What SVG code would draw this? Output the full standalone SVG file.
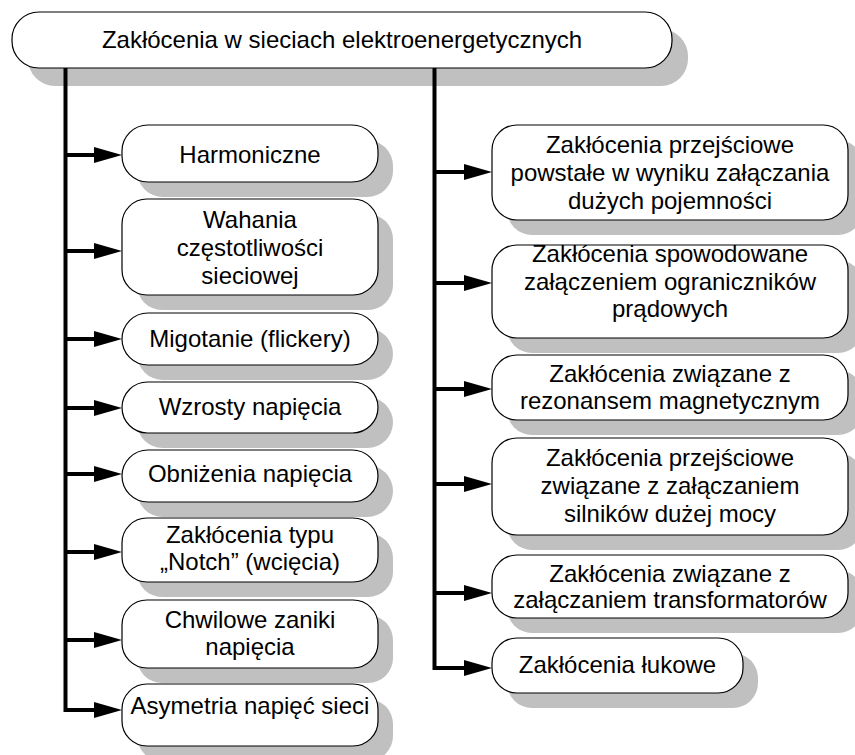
<svg xmlns="http://www.w3.org/2000/svg" width="855" height="755" viewBox="0 0 855 755">
  <style>
    .shadow { fill: #c0c0c0; stroke: none; }
    .box { fill: #ffffff; stroke: #000000; stroke-width: 1.2; }
    .label { font-family: "Liberation Sans", Arial, sans-serif; font-size: 24px; fill: #000000; text-anchor: middle; }
    .wire { fill: none; stroke: #000000; stroke-width: 4; stroke-linejoin: miter; }
  </style>
  <defs>
    <marker id="arrow" markerUnits="userSpaceOnUse" markerWidth="30" markerHeight="18" refX="6" refY="8" orient="auto" overflow="visible">
      <path d="M0,0 L28,8 L0,16 Z" fill="#000000"/>
    </marker>
  </defs>
  <rect width="855" height="755" fill="#ffffff"/>

  <!-- root -->
  <g id="root">
    <rect class="shadow" x="28" y="29" width="660" height="57" rx="27" ry="27"/>
    <rect class="box" x="12" y="12" width="660" height="56" rx="27" ry="27"/>
    <text class="label" x="342" y="48">Zakłócenia w sieciach elektroenergetycznych</text>
  </g>

  <!-- left column -->
  <g id="harmoniczne">
    <rect class="shadow" x="137" y="140" width="256" height="57" rx="26" ry="26"/>
    <rect class="box" x="122" y="125" width="256" height="57" rx="26" ry="26"/>
    <text class="label" x="250" y="163">Harmoniczne</text>
  </g>
  <g id="wahania">
    <rect class="shadow" x="137" y="214" width="256" height="96" rx="25" ry="25"/>
    <rect class="box" x="122" y="199" width="256" height="96" rx="25" ry="25"/>
    <text class="label" x="250" y="228">Wahania</text>
    <text class="label" x="250" y="256">częstotliwości</text>
    <text class="label" x="250" y="284">sieciowej</text>
  </g>
  <g id="migotanie">
    <rect class="shadow" x="137" y="328" width="256" height="52" rx="26" ry="26"/>
    <rect class="box" x="122" y="313" width="256" height="52" rx="26" ry="26"/>
    <text class="label" x="250" y="347">Migotanie (flickery)</text>
  </g>
  <g id="wzrosty">
    <rect class="shadow" x="137" y="397" width="256" height="51" rx="25.5" ry="25.5"/>
    <rect class="box" x="122" y="382" width="256" height="51" rx="25.5" ry="25.5"/>
    <text class="label" x="250" y="415">Wzrosty napięcia</text>
  </g>
  <g id="obnizenia">
    <rect class="shadow" x="137" y="465" width="256" height="52" rx="26" ry="26"/>
    <rect class="box" x="122" y="450" width="256" height="52" rx="26" ry="26"/>
    <text class="label" x="250" y="482">Obniżenia napięcia</text>
  </g>
  <g id="notch">
    <rect class="shadow" x="137" y="533" width="256" height="64" rx="25" ry="25"/>
    <rect class="box" x="122" y="518" width="256" height="64" rx="25" ry="25"/>
    <text class="label" x="250" y="543">Zakłócenia typu</text>
    <text class="label" x="250" y="570">„Notch” (wcięcia)</text>
  </g>
  <g id="chwilowe">
    <rect class="shadow" x="137" y="615" width="256" height="68" rx="25" ry="25"/>
    <rect class="box" x="122" y="600" width="256" height="68" rx="25" ry="25"/>
    <text class="label" x="250" y="628">Chwilowe zaniki</text>
    <text class="label" x="250" y="655">napięcia</text>
  </g>
  <g id="asymetria">
    <rect class="shadow" x="137" y="699" width="256" height="62" rx="25" ry="25"/>
    <rect class="box" x="122" y="684" width="256" height="62" rx="25" ry="25"/>
    <text class="label" x="250" y="714">Asymetria napięć sieci</text>
  </g>

  <!-- right column -->
  <g id="pojemnosci">
    <rect class="shadow" x="507" y="140" width="356" height="95" rx="25" ry="25"/>
    <rect class="box" x="492" y="125" width="356" height="95" rx="25" ry="25"/>
    <text class="label" x="670" y="153">Zakłócenia przejściowe</text>
    <text class="label" x="670" y="181">powstałe w wyniku załączania</text>
    <text class="label" x="670" y="209">dużych pojemności</text>
  </g>
  <g id="ograniczniki">
    <rect class="shadow" x="507" y="260" width="356" height="93" rx="25" ry="25"/>
    <rect class="box" x="492" y="245" width="356" height="93" rx="25" ry="25"/>
    <text class="label" x="670" y="262">Zakłócenia spowodowane</text>
    <text class="label" x="670" y="290">załączeniem ograniczników</text>
    <text class="label" x="670" y="317">prądowych</text>
  </g>
  <g id="rezonans">
    <rect class="shadow" x="507" y="370" width="356" height="65" rx="25" ry="25"/>
    <rect class="box" x="492" y="355" width="356" height="65" rx="25" ry="25"/>
    <text class="label" x="670" y="382">Zakłócenia związane z</text>
    <text class="label" x="670" y="409">rezonansem magnetycznym</text>
  </g>
  <g id="silniki">
    <rect class="shadow" x="507" y="453" width="356" height="97" rx="25" ry="25"/>
    <rect class="box" x="492" y="438" width="356" height="97" rx="25" ry="25"/>
    <text class="label" x="670" y="466">Zakłócenia przejściowe</text>
    <text class="label" x="670" y="494">związane z załączaniem</text>
    <text class="label" x="670" y="522">silników dużej mocy</text>
  </g>
  <g id="transformatory">
    <rect class="shadow" x="507" y="570" width="356" height="63" rx="25" ry="25"/>
    <rect class="box" x="492" y="555" width="356" height="63" rx="25" ry="25"/>
    <text class="label" x="670" y="582">Zakłócenia związane z</text>
    <text class="label" x="670" y="608">załączaniem transformatorów</text>
  </g>
  <g id="lukowe">
    <rect class="shadow" x="507" y="653" width="251" height="55" rx="25" ry="25"/>
    <rect class="box" x="492" y="638" width="251" height="55" rx="25" ry="25"/>
    <text class="label" x="617.5" y="673">Zakłócenia łukowe</text>
  </g>

  <!-- connectors -->
  <g id="connectors">
    <path class="wire" d="M65.5,68 V710 H100" marker-end="url(#arrow)"/>
    <path class="wire" d="M65.5,155 H100" marker-end="url(#arrow)"/>
    <path class="wire" d="M65.5,251 H100" marker-end="url(#arrow)"/>
    <path class="wire" d="M65.5,339 H100" marker-end="url(#arrow)"/>
    <path class="wire" d="M65.5,408 H100" marker-end="url(#arrow)"/>
    <path class="wire" d="M65.5,474 H100" marker-end="url(#arrow)"/>
    <path class="wire" d="M65.5,552 H100" marker-end="url(#arrow)"/>
    <path class="wire" d="M65.5,640 H100" marker-end="url(#arrow)"/>

    <path class="wire" d="M434.5,68 V668 H470" marker-end="url(#arrow)"/>
    <path class="wire" d="M434.5,172 H470" marker-end="url(#arrow)"/>
    <path class="wire" d="M434.5,283 H470" marker-end="url(#arrow)"/>
    <path class="wire" d="M434.5,389 H470" marker-end="url(#arrow)"/>
    <path class="wire" d="M434.5,484 H470" marker-end="url(#arrow)"/>
    <path class="wire" d="M434.5,593 H470" marker-end="url(#arrow)"/>
  </g>
</svg>
